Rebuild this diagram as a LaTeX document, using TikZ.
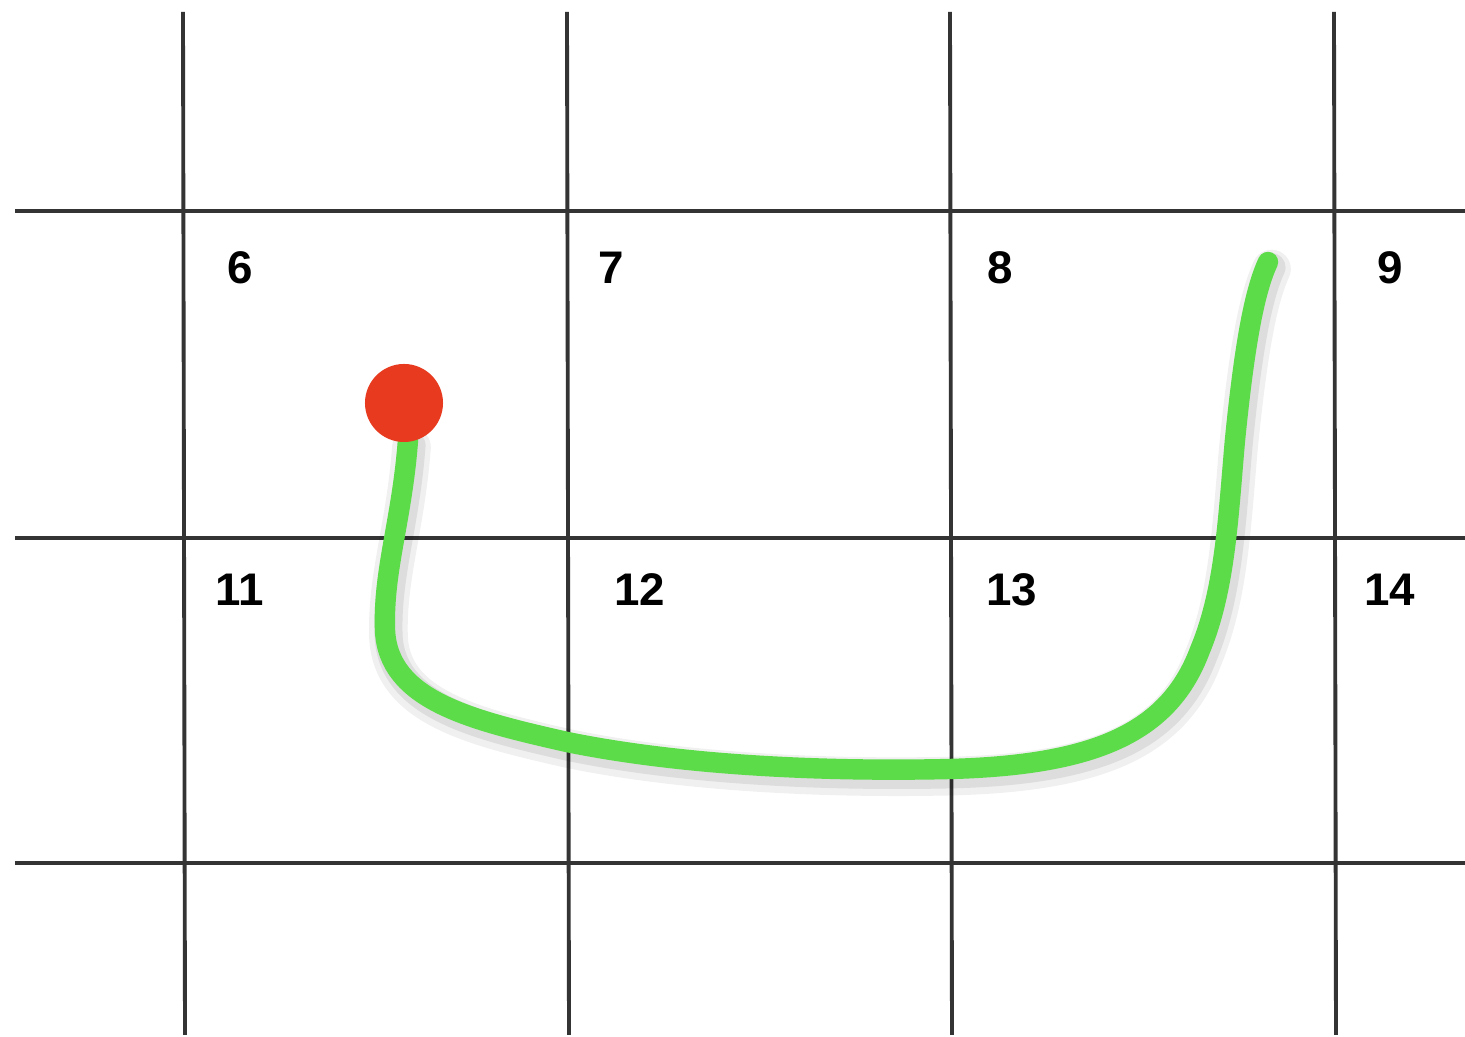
\documentclass[tikz,border=0pt]{standalone}
\usepackage{fontspec}
\setmainfont{Liberation Sans}
\usepackage{tikz}
\usetikzlibrary{positioning,calc}
\definecolor{pathgreen}{RGB}{92,220,72}
\definecolor{dotred}{RGB}{232,58,30}
\definecolor{gridgray}{RGB}{52,52,52}
\tikzset{
  gridline/.style={gridgray,line width=1.1pt},
  celllabel/.style={font=\fontsize{13}{13}\selectfont\bfseries,inner sep=0pt},
  trail/.style={line cap=round}
}
\newcommand{\trailpath}{(408,440) .. controls (402,520) and (383,570) .. (385,630)
  .. controls (388,700) and (470,720) .. (567,742)
  .. controls (680,765) and (820,772) .. (950,769)
  .. controls (1100,765) and (1170,730) .. (1200,650)
  .. controls (1225,590) and (1228,520) .. (1235,440)
  .. controls (1245,340) and (1255,290) .. (1268,262)}

\begin{document}
\begin{tikzpicture}[x=0.01cm,y=-0.01cm]
      \useasboundingbox[fill=white] (0,0) rectangle (1465,1037);

      % grid
      \foreach \gx in {183,567,950,1334}
        \draw[gridline] (\gx,12) -- (\gx+2,1035);
      \foreach \gy in {211,538,863}
        \draw[gridline] (15,\gy) -- (1465,\gy);

      % cell numbers
      \foreach \lx/\ly/\lt in {240/268/6,611/268/7,1000/268/8,1390/268/9,240/590/11,640/590/12,1012/590/13,1390/590/14}
        \node[celllabel] (cell\lt) at (\lx,\ly) {\lt};

      % soft shadow of the trail
      \draw[trail,black,opacity=.06,line width=11pt,xshift=1pt,yshift=-2pt] \trailpath;
      \draw[trail,black,opacity=.08,line width=8pt,xshift=1pt,yshift=-1.5pt] \trailpath;

      % the trail
      \draw[trail,pathgreen,line width=5.8pt] \trailpath;

      % start point
      \node[circle,fill=dotred,minimum size=0.78cm,inner sep=0pt] (start) at (404,403) {};
\end{tikzpicture}
\end{document}
